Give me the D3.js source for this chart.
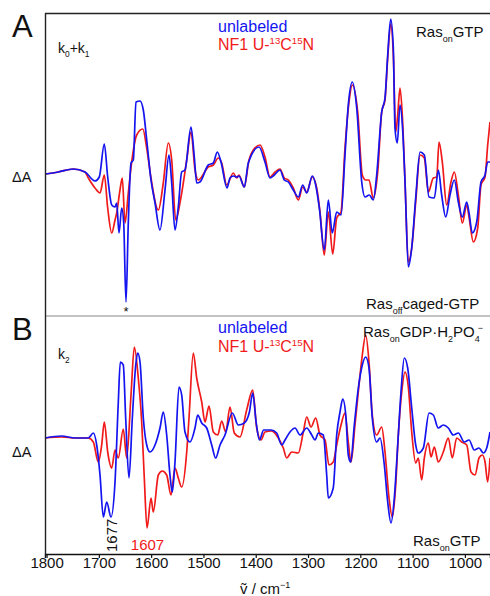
<!DOCTYPE html>
<html>
<head>
<meta charset="utf-8">
<script src="https://cdn.jsdelivr.net/npm/d3@7"></script>
<style>
  html, body { margin: 0; padding: 0; background: #fff; }
  svg { display: block; font-family: "Liberation Sans", Arial, Helvetica, sans-serif; }
</style>
</head>
<body>
<svg id="chart" width="490" height="596"></svg>
<script>
// Time-resolved FTIR difference spectra, wavenumber (cm^-1) vs. ΔA (arbitrary units)

// Panel A (k0+k1): unlabeled NF1
const aUnlabeled = [
  [1803,-0.1],[1777.6,0.1],[1748.9,0.4],[1726.5,0.1],[1707.4,-0.8],[1699.2,-0.4],[1689.6,2.9],
  [1683.1,-0.4],[1675.4,-3.2],[1669.1,-3.4],[1665.9,-3.0],[1661.5,-6.0],[1656.3,-3.5],[1652.5,-5.0],
  [1648.1,-12.9],[1643.7,-5.0],[1638.5,1.0],[1634.1,1.3],[1629,7.1],[1621.3,7.2],[1615,6.3],
  [1608.5,3.3],[1600.3,-0.7],[1592.6,-3.0],[1583.1,-5.7],[1573.5,-1.7],[1565.9,1.8],[1560.7,-1.0],
  [1554.4,-5.7],[1548.1,-3.4],[1541.6,0.1],[1535.3,0.3],[1523.8,4.6],[1517.5,1.6],[1512.9,-1.0],
  [1506.6,-0.9],[1490.7,0.8],[1481.1,1.0],[1473.5,2.1],[1466.4,1.1],[1454.9,-1.5],[1449.2,-0.5],
  [1442.9,-0.3],[1436.4,-0.4],[1432,-0.3],[1421.9,-1.4],[1414.2,1.0],[1393.7,2.6],[1382.3,1.1],
  [1372.7,-0.5],[1364.5,-0.2],[1353.6,0.3],[1345.4,-0.7],[1337.7,-0.9],[1328.2,-1.7],[1318.6,-2.4],
  [1310.2,-1.2],[1302.5,-2.0],[1291.8,-0.3],[1285.3,-1.2],[1278.4,-3.5],[1268.9,-7.7],[1261.2,-2.7],
  [1253.6,-6.0],[1245.2,-3.9],[1236.9,-4.2],[1229.3,1.8],[1223,6.8],[1215.3,9.1],[1206.9,6.5],
  [1197.3,-0.9],[1191,-2.4],[1182.8,-2.2],[1175.2,-2.7],[1168.7,-0.2],[1159.1,6.1],[1152.8,7.5],
  [1147.6,11.8],[1141.9,15.4],[1136.9,12.5],[1133.7,4.5],[1129.3,3.0],[1124.1,6.8],[1119,4.3],
  [1114.5,-0.9],[1108.2,-9.4],[1101.7,-7.5],[1094.1,-2.5],[1085.8,2.1],[1077.6,1.8],[1068.6,-2.4],
  [1058.5,-2.5],[1050.8,0.3],[1044.4,-2.2],[1036.7,-4.4],[1028.5,-2.2],[1020.2,-0.7],[1012.6,-2.9],
  [1004.9,-4.4],[996.5,-2.9],[992.1,-4.0],[985.8,-6.0],[977.4,-4.9],[969.2,-0.9],[961.5,-0.2],
  [956.4,1.1],[952,1.1]
];

// Panel A (k0+k1): NF1 U-13C15N
const aLabeled = [
  [1803,-0.1],[1777.6,0.1],[1748.9,0.4],[1726.5,0.1],[1720.1,-0.5],[1707.4,-1.5],[1697.8,-2.0],
  [1689.6,-0.2],[1683.1,-3.5],[1675.4,-6.0],[1669.1,-4.7],[1665.9,-4.0],[1659.6,-1.7],[1655.2,-0.5],
  [1650,-5.0],[1643.7,-2.0],[1637.2,1.1],[1627.6,3.8],[1616.1,4.4],[1608.5,2.5],[1600.3,-0.5],
  [1586.3,-3.7],[1576.8,-1.0],[1567.2,3.0],[1560.7,1.3],[1553,-4.7],[1542.9,-2.4],[1532,1.3],
  [1523.8,4.1],[1516.1,0.3],[1509.8,-0.7],[1490.7,0.6],[1481.1,0.8],[1471.6,1.5],[1465.1,1.0],
  [1455.5,-1.2],[1442.9,0.0],[1436.4,-0.5],[1432,-0.2],[1421.9,-1.4],[1412.9,1.3],[1404.6,2.3],
  [1391.8,2.8],[1382.3,1.6],[1372.7,-0.4],[1363.1,0.1],[1353.6,0.4],[1345.4,-0.5],[1337.7,-0.7],
  [1328.2,-1.5],[1318.6,-2.7],[1310.2,-1.4],[1302.5,-1.9],[1291.8,-0.4],[1283.4,-1.5],[1277.1,-3.9],
  [1268.9,-8.2],[1261.2,-3.9],[1252.8,-8.1],[1245.2,-4.5],[1236.9,-3.9],[1229.3,2.5],[1221.6,7.1],
  [1215.3,8.8],[1205,6.1],[1196.2,-0.2],[1189.7,-0.7],[1183.4,-0.7],[1175.2,-2.5],[1166.7,0.1],
  [1159.1,6.1],[1152.8,7.3],[1147.6,11.5],[1141.9,14.9],[1136.9,11.8],[1132.3,4.1],[1128.5,5.8],
  [1124.1,8.5],[1119.7,5.8],[1114.5,-0.9],[1108.2,-8.9],[1101.7,-7.5],[1094.1,-2.9],[1085.8,1.8],
  [1077.6,1.5],[1069.9,-1.9],[1060.4,-0.5],[1053.9,-0.4],[1049.5,3.1],[1043.2,1.1],[1034.8,-3.2],
  [1026.6,-0.9],[1020.2,0.1],[1012.6,-2.2],[1004.9,-5.0],[996.5,-3.2],[992.1,-4.4],[983.9,-6.9],
  [975.5,-5.5],[969.2,-1.2],[961.5,-0.4],[956.4,2.8],[952,5.1]
];

// Panel B (k2): unlabeled NF1
const bUnlabeled = [
  [1803,0.0],[1771.1,0.2],[1745.6,0.0],[1720.2,0.0],[1710.6,0.5],[1704.1,-0.7],[1697.8,-3.7],
  [1691.5,-7.9],[1685,-6.4],[1676.8,-7.9],[1669.1,-4.4],[1662.8,3.6],[1659,7.6],[1653.3,7.3],
  [1648.7,2.0],[1642.4,-4.0],[1636,2.0],[1629.5,7.3],[1625.7,8.5],[1621.3,7.6],[1615,2.0],
  [1608.5,-0.7],[1602.2,-1.4],[1592.6,-0.7],[1583.1,1.0],[1576.8,2.6],[1570.3,0.3],[1564,-3.7],
  [1559.6,-5.4],[1554.4,-2.4],[1546.8,5.1],[1541.6,4.3],[1535.3,0.6],[1525.7,-0.4],[1516.1,1.0],
  [1511,2.3],[1503.3,1.5],[1493.8,1.0],[1484.2,-0.7],[1476.6,-2.0],[1468.3,-0.7],[1458.8,0.3],
  [1444.8,2.5],[1433.3,1.3],[1421.9,1.5],[1412.1,2.6],[1405.8,4.5],[1399.3,1.6],[1393,-0.2],
  [1384.8,0.8],[1370.8,0.8],[1359.9,0.5],[1350.3,-0.7],[1344,-0.2],[1334.5,0.6],[1324.9,1.0],
  [1315.3,0.3],[1302.5,1.0],[1292.9,0.3],[1286.6,-0.2],[1280.3,0.5],[1270.8,0.3],[1264.3,-3.7],
  [1261.2,-6.0],[1251.8,-5.0],[1245.2,0.3],[1238.8,2.6],[1233.6,3.9],[1227.8,2.3],[1223,-1.7],
  [1218.4,-2.4],[1211.5,1.3],[1203.8,5.0],[1196.2,7.3],[1189.7,8.1],[1183.4,7.0],[1177.1,2.0],
  [1168.7,-0.4],[1162.3,0.0],[1154.1,-2.7],[1147.6,-6.4],[1141.3,-8.5],[1135,-6.0],[1128.5,-0.7],
  [1122.2,4.6],[1115.9,8.0],[1109.4,7.0],[1101.7,3.0],[1094.1,-0.7],[1089.1,-1.5],[1079.5,-1.0],
  [1068.6,2.5],[1060.4,2.3],[1050.9,1.0],[1041.3,1.3],[1031.7,1.0],[1022.2,0.3],[1012.6,0.5],
  [1001.1,-0.4],[992.1,-0.2],[982,-1.2],[973,-1.0],[964.8,-1.5],[958.3,-1.0],[952,0.6]
];

// Panel B (k2): NF1 U-13C15N
const bLabeled = [
  [1803,0.0],[1771.1,0.1],[1745.6,0.0],[1720.2,0.0],[1710.6,-0.4],[1701.1,-2.4],[1694.6,-0.7],
  [1689.6,1.6],[1683.1,-1.4],[1675.4,-3.0],[1669.1,-1.2],[1662.8,-2.0],[1653.3,0.9],[1646.8,-2.0],
  [1638.5,4.3],[1632.2,9.1],[1624.6,6.0],[1618.1,1.6],[1613.1,-4.0],[1607.9,-9.0],[1600.3,-6.0],
  [1595.9,-7.4],[1586.3,-3.7],[1578.7,-3.3],[1570.3,-3.7],[1562,-5.7],[1554.4,-3.0],[1548.1,-4.0],
  [1541.6,-4.9],[1532,-1.4],[1527.6,2.0],[1519.4,8.5],[1512.9,6.0],[1503.3,3.6],[1497,1.6],
  [1489.4,3.2],[1481.1,0.6],[1472.7,0.3],[1465.1,1.7],[1457.4,0.6],[1449.2,3.1],[1441,0.5],
  [1430.1,0.1],[1417.3,2.8],[1405.8,4.8],[1398.1,1.0],[1389.9,-0.2],[1382.3,0.6],[1369.5,0.7],
  [1356.8,0.0],[1347.3,-1.0],[1340.8,-2.0],[1331.2,-1.4],[1318.6,-1.5],[1309,0.6],[1302.5,2.1],
  [1294.3,1.1],[1285.3,2.0],[1277.1,0.3],[1267.5,-0.2],[1259.9,-2.7],[1251.8,-2.4],[1245.2,-0.7],
  [1236.9,1.3],[1229.3,2.5],[1223,-0.4],[1217.8,-2.4],[1210.2,1.3],[1202.5,5.3],[1196.2,8.3],
  [1189.7,10.3],[1183.4,7.6],[1177.1,2.3],[1168.7,0.3],[1159.1,1.1],[1152.8,-1.4],[1145.1,-6.0],
  [1138.8,-7.9],[1132.3,-4.7],[1127.3,0.3],[1120.8,4.6],[1114.5,6.6],[1108.2,5.1],[1101.7,0.6],
  [1094.1,-2.5],[1089.1,-2.0],[1082.6,-4.2],[1077.6,-2.0],[1069.9,-0.5],[1064.8,-1.9],[1058.5,-0.9],
  [1050.9,-2.4],[1041.3,-1.4],[1031.7,0.0],[1024.1,-2.0],[1015.7,0.0],[1006.1,-0.4],[996.5,-0.7],
  [988.3,-3.4],[980.7,-3.7],[973,-2.0],[966.7,-1.7],[961.5,-2.4],[956.4,-4.4],[952,-2.0]
];

const xTicks = [1800, 1700, 1600, 1500, 1400, 1300, 1200, 1100, 1000];
const seriesColors = { unlabeled: "#1414f0", labeled: "#f01a1a" };

const svg = d3.select("#chart");

const x = d3.scaleLinear().domain([1803, 952]).range([45, 490]);
const yA = d3.scaleLinear().domain([-14.3, 16]).range([316, 13]);
const yB = d3.scaleLinear().domain([-11.6, 12.2]).range([554, 316]);

const defs = svg.append("defs");
defs.append("clipPath").attr("id", "clipA")
  .append("rect").attr("x", 45).attr("y", 13).attr("width", 445).attr("height", 303);
defs.append("clipPath").attr("id", "clipB")
  .append("rect").attr("x", 45).attr("y", 316).attr("width", 445).attr("height", 238);

function drawCurves(data, yScale, clipId) {
  const line = d3.line()
    .x(d => x(d[0]))
    .y(d => yScale(d[1]))
    .curve(d3.curveMonotoneX);
  const g = svg.append("g").attr("clip-path", `url(#${clipId})`);
  data.forEach(s => {
    g.append("path")
      .attr("d", line(s.values))
      .attr("fill", "none")
      .attr("stroke", s.color)
      .attr("stroke-width", 1.7)
      .attr("stroke-linejoin", "round");
  });
}

drawCurves([
  { values: aLabeled, color: seriesColors.labeled },
  { values: aUnlabeled, color: seriesColors.unlabeled }
], yA, "clipA");

drawCurves([
  { values: bLabeled, color: seriesColors.labeled },
  { values: bUnlabeled, color: seriesColors.unlabeled }
], yB, "clipB");

// Frame lines
svg.append("line").attr("x1", 45).attr("x2", 490).attr("y1", 13.5).attr("y2", 13.5)
  .attr("stroke", "#222").attr("stroke-width", 1.3);
svg.append("line").attr("x1", 45).attr("x2", 490).attr("y1", 316).attr("y2", 316)
  .attr("stroke", "#888").attr("stroke-width", 1);
svg.append("line").attr("x1", 45.5).attr("x2", 45.5).attr("y1", 13).attr("y2", 554)
  .attr("stroke", "#222").attr("stroke-width", 1.4);

// Bottom axis
const axis = d3.axisBottom(x).tickValues(xTicks).tickSize(4).tickFormat(d3.format("d"));
const gAxis = svg.append("g").attr("transform", "translate(0,554)").call(axis);
gAxis.select(".domain").attr("stroke", "#111").attr("stroke-width", 1.5);
gAxis.selectAll(".tick line").attr("stroke", "#111").attr("stroke-width", 1.2);
gAxis.selectAll(".tick text")
  .attr("font-family", "Liberation Sans, Arial, sans-serif")
  .attr("font-size", 15).attr("fill", "#111")
  .attr("y", 14).attr("dy", 0);

// Axis title: ṽ / cm⁻¹
const xt = svg.append("text").attr("x", 240).attr("y", 594)
  .attr("font-size", 15).attr("fill", "#111");
xt.append("tspan").text("\u1E7D / cm");
xt.append("tspan").attr("font-size", 9).attr("dy", -6).text("\u22121");

// Panel letters
svg.append("text").attr("x", 12).attr("y", 37).attr("font-size", 31).attr("fill", "#111").text("A");
svg.append("text").attr("x", 12).attr("y", 340).attr("font-size", 31).attr("fill", "#111").text("B");

// ΔA labels
svg.append("text").attr("x", 12).attr("y", 182).attr("font-size", 14.5).attr("fill", "#111").text("ΔA");
svg.append("text").attr("x", 12).attr("y", 457).attr("font-size", 14.5).attr("fill", "#111").text("ΔA");

// Helper for text with sub/superscripts: parts = [[text, "n"|"sub"|"sup"], ...]
function richText(xPos, yPos, size, color, parts, anchor) {
  const t = svg.append("text").attr("x", xPos).attr("y", yPos)
    .attr("font-size", size).attr("fill", color).attr("text-anchor", anchor || "start");
  let shift = 0;
  parts.forEach(([s, kind, extraDx]) => {
    let target = 0;
    if (kind === "sub") target = size * 0.3;
    if (kind === "sup") target = -size * 0.4;
    const ts = t.append("tspan").text(s).attr("dy", target - shift);
    if (extraDx) ts.attr("dx", extraDx);
    if (kind !== "n") ts.attr("font-size", size * 0.6);
    shift = target;
  });
  return t;
}

// Rate constant labels
richText(58, 53, 14, "#111", [["k", "n"], ["0", "sub"], ["+k", "n"], ["1", "sub"]]);
richText(58, 359, 14, "#111", [["k", "n"], ["2", "sub"]]);

// Legends
svg.append("text").attr("x", 218).attr("y", 32).attr("font-size", 16)
  .attr("fill", seriesColors.unlabeled).text("unlabeled");
richText(218, 50, 16, seriesColors.labeled,
  [["NF1 U-", "n"], ["13", "sup"], ["C", "n"], ["15", "sup"], ["N", "n"]]);
svg.append("text").attr("x", 218).attr("y", 333).attr("font-size", 16)
  .attr("fill", seriesColors.unlabeled).text("unlabeled");
richText(218, 352, 16, seriesColors.labeled,
  [["NF1 U-", "n"], ["13", "sup"], ["C", "n"], ["15", "sup"], ["N", "n"]]);

// State annotations
richText(416, 37, 15, "#111", [["Ras", "n"], ["on", "sub"], ["GTP", "n"]]);
richText(366, 309, 15, "#111", [["Ras", "n"], ["off", "sub"], ["caged-GTP", "n"]]);
richText(363, 337, 15, "#111",
  [["Ras", "n"], ["on", "sub"], ["GDP·H", "n"], ["2", "sub"], ["PO", "n"], ["4", "sub"], ["\u2212", "sup", -2]]);
richText(413, 546, 15, "#111", [["Ras", "n"], ["on", "sub"], ["GTP", "n"]]);

// Band markers
svg.append("text").attr("x", x(1648)).attr("y", 316).attr("text-anchor", "middle")
  .attr("font-size", 13).attr("fill", "#111").text("*");
svg.append("text")
  .attr("transform", `translate(${x(1677) + 6},552) rotate(-90)`)
  .attr("font-size", 15).attr("fill", "#111").text("1677");
svg.append("text").attr("x", x(1607)).attr("y", 550).attr("text-anchor", "middle")
  .attr("font-size", 15).attr("fill", seriesColors.labeled).text("1607");
</script>
</body>
</html>
